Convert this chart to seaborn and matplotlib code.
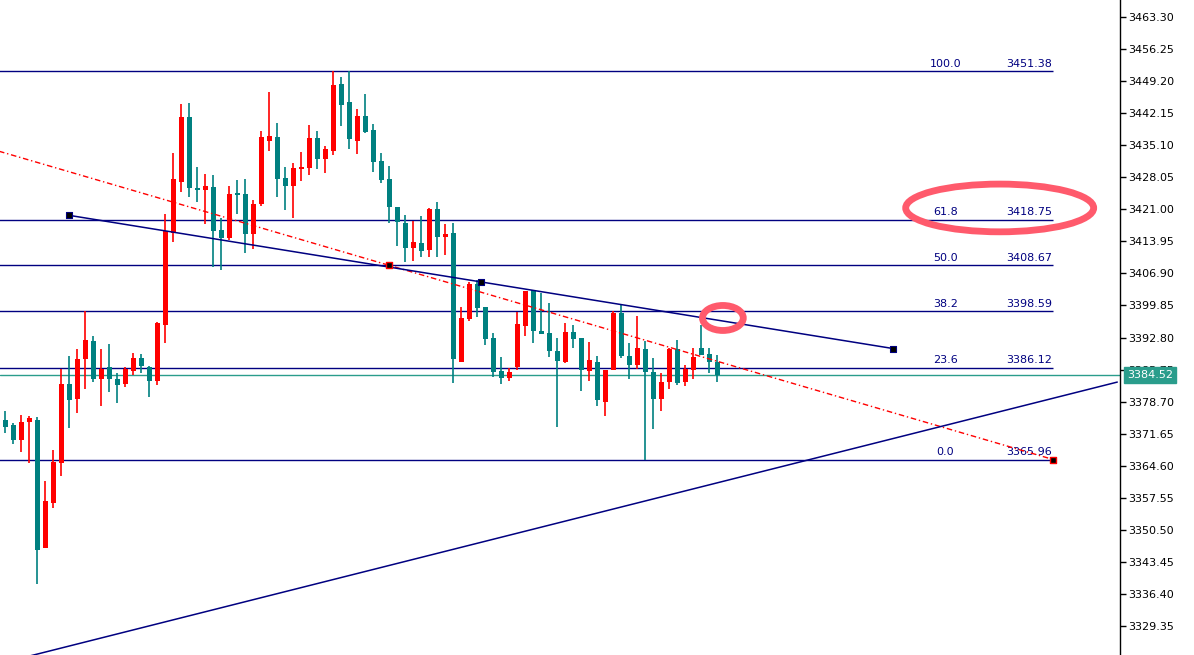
import matplotlib
matplotlib.use("Agg")
import matplotlib.pyplot as plt
from matplotlib.patches import Ellipse
import seaborn as sns
import pandas as pd

# ---- candle data (bar index order, oldest first) ----
opens = [3374.6, 3373.5, 3370.2, 3374.2, 3374.6, 3346.5, 3356.4, 3365.2, 3382.6, 3379.3,
         3388.0, 3392.0, 3383.7, 3386.3, 3383.7, 3382.6, 3385.4, 3388.3, 3386.3, 3383.2,
         3395.5, 3415.8, 3427.0, 3441.3, 3425.7, 3425.2, 3425.9, 3416.4, 3414.7, 3424.6,
         3424.4, 3415.6, 3422.2, 3436.0, 3436.9, 3427.9, 3426.1, 3429.9, 3430.1, 3436.7,
         3432.0, 3433.8, 3448.5, 3444.6, 3436.0, 3441.5, 3438.4, 3431.6, 3427.7, 3421.5,
         3418.0, 3412.5, 3413.6, 3412.0, 3421.0, 3414.9, 3415.8, 3387.4, 3396.9, 3404.5,
         3399.5, 3392.7, 3385.4, 3383.9, 3386.3, 3395.3, 3403.2, 3394.2, 3393.8, 3389.8,
         3387.4, 3394.0, 3392.7, 3385.4, 3387.4, 3378.6, 3385.6, 3398.2, 3388.7, 3386.7,
         3390.2, 3385.2, 3379.3, 3383.0, 3390.2, 3383.0, 3385.6, 3390.5, 3389.2, 3387.4]
highs = [3376.6, 3374.0, 3375.7, 3375.5, 3375.3, 3361.2, 3368.0, 3385.9, 3388.7, 3390.2,
         3398.6, 3393.1, 3390.2, 3391.3, 3385.0, 3386.3, 3389.4, 3389.2, 3386.5, 3396.2,
         3419.9, 3433.4, 3444.2, 3444.4, 3430.3, 3428.8, 3428.5, 3419.1, 3426.1, 3427.4,
         3427.7, 3423.0, 3438.2, 3446.8, 3440.0, 3430.3, 3431.2, 3433.6, 3439.5, 3438.2,
         3434.9, 3451.38, 3450.1, 3451.38, 3443.1, 3446.4, 3439.8, 3433.4, 3430.5, 3421.5,
         3419.7, 3418.4, 3419.5, 3421.3, 3422.6, 3417.8, 3418.0, 3399.5, 3405.0, 3405.4,
         3399.5, 3393.8, 3388.5, 3386.1, 3398.4, 3403.0, 3403.2, 3402.6, 3400.4, 3392.7,
         3396.0, 3395.5, 3392.7, 3391.8, 3388.7, 3385.6, 3398.6, 3400.2, 3391.6, 3397.5,
         3392.0, 3388.3, 3385.0, 3390.5, 3392.2, 3386.7, 3390.5, 3395.5, 3390.5, 3388.9]
lows = [3371.8, 3369.3, 3367.6, 3365.2, 3338.5, 3346.4, 3355.3, 3362.3, 3372.9, 3376.2,
        3381.5, 3383.0, 3377.7, 3380.8, 3378.4, 3381.9, 3384.5, 3385.0, 3379.7, 3382.3,
        3391.6, 3413.8, 3424.8, 3423.7, 3422.6, 3417.8, 3408.3, 3407.6, 3414.2, 3419.9,
        3411.4, 3412.3, 3421.7, 3433.8, 3423.7, 3420.8, 3419.1, 3427.2, 3428.5, 3429.9,
        3429.0, 3433.0, 3439.3, 3434.2, 3433.2, 3437.8, 3429.2, 3426.8, 3418.0, 3412.9,
        3409.4, 3409.6, 3410.5, 3410.5, 3410.5, 3410.9, 3382.8, 3387.4, 3396.5, 3397.3,
        3391.1, 3384.1, 3382.5, 3383.2, 3385.6, 3393.1, 3391.6, 3393.6, 3388.5, 3373.1,
        3387.2, 3390.5, 3381.0, 3383.2, 3377.7, 3375.5, 3385.6, 3388.3, 3383.6, 3385.9,
        3365.96, 3372.7, 3376.6, 3381.5, 3382.3, 3382.1, 3383.6, 3388.9, 3385.0, 3383.0]
closes = [3373.1, 3370.2, 3374.2, 3375.1, 3346.0, 3356.8, 3365.4, 3382.6, 3379.0, 3388.0,
          3392.2, 3383.7, 3385.9, 3383.7, 3382.3, 3385.9, 3388.3, 3386.5, 3383.2, 3396.0,
          3416.2, 3427.7, 3441.3, 3425.7, 3425.2, 3426.1, 3416.2, 3414.7, 3424.4, 3424.1,
          3415.6, 3422.2, 3436.9, 3437.1, 3427.7, 3426.1, 3430.1, 3430.3, 3436.7, 3432.0,
          3434.2, 3448.3, 3443.9, 3436.5, 3441.5, 3438.0, 3431.4, 3427.4, 3421.5, 3418.2,
          3412.5, 3413.8, 3411.8, 3421.0, 3414.9, 3415.6, 3388.0, 3397.1, 3404.5, 3399.3,
          3392.5, 3385.2, 3383.9, 3385.2, 3395.7, 3403.0, 3394.2, 3393.6, 3389.8, 3387.6,
          3394.0, 3392.5, 3385.6, 3387.8, 3379.0, 3385.6, 3398.2, 3388.7, 3386.7, 3390.5,
          3385.2, 3379.3, 3383.0, 3390.2, 3382.8, 3385.9, 3388.5, 3388.9, 3387.4, 3384.52]

# ---- Fibonacci retracement ----
fib_labels = ["0.0", "23.6", "38.2", "50.0", "61.8", "100.0"]
fib_prices = [3365.96, 3386.12, 3398.59, 3408.67, 3418.75, 3451.38]
fib_anchor_x = [-35, 131]
fib_anchor_y = [3451.38, 3365.96]

# ---- trend lines ----
falling_x = [8, 111]
falling_y = [3419.67, 3390.37]
rising_x = [0, 139]
rising_y = [3321.4, 3383.0]

bid_price = 3384.52

# ---- price scale ----
ytick_values = [3329.35, 3336.40, 3343.45, 3350.50, 3357.55, 3364.60, 3371.65, 3378.70,
                3385.75, 3392.80, 3399.85, 3406.90, 3413.95, 3421.00, 3428.05, 3435.10,
                3442.15, 3449.20, 3456.25, 3463.30]

UP = "#ff0000"
DOWN = "#008080"
NAVY = "#000080"
TEAL = "#2a9d8c"
MARK = "#ff5a6c"

sns.set_theme(style="white")
plt.rcParams["font.family"] = ["DejaVu Sans"]

df = pd.DataFrame({"open": opens, "high": highs, "low": lows, "close": closes})
df["idx"] = range(len(df))
df["up"] = df["close"] >= df["open"]
df["color"] = df["up"].map({True: UP, False: DOWN})

fig = plt.figure(figsize=(11.94, 6.55), dpi=100)
ax = fig.add_axes([0, 0, 1120 / 1194, 1])

# fib levels
for lab, p in zip(fib_labels, fib_prices):
    ax.hlines(p, fib_anchor_x[0], fib_anchor_x[1], color=NAVY, lw=1, zorder=2)
    ax.text(117.5, p + 0.55, lab, color=NAVY, fontsize=8, ha="center", va="bottom")
    ax.text(128.0, p + 0.55, f"{p:.2f}", color=NAVY, fontsize=8, ha="center", va="bottom")

# bid line
ax.axhline(bid_price, color=TEAL, lw=1, zorder=2)

# wicks and bodies
ax.vlines(df["idx"], df["low"], df["high"], colors=df["color"], lw=1.2, zorder=3)
body_lo = df[["open", "close"]].min(axis=1)
body_h = (df["close"] - df["open"]).abs().clip(lower=0.3)
ax.bar(df["idx"], body_h, bottom=body_lo, width=0.64, color=df["color"],
       linewidth=0, zorder=4)

# fib diagonal (dash-dot)
ax.plot(fib_anchor_x, fib_anchor_y, color=UP, lw=1, ls=(0, (4, 2, 1, 2)), zorder=5)
fib_mid = [(fib_anchor_x[0] + fib_anchor_x[1]) / 2, (fib_anchor_y[0] + fib_anchor_y[1]) / 2]
sns.scatterplot(x=[fib_mid[0], fib_anchor_x[1]], y=[fib_mid[1], fib_anchor_y[1]], ax=ax,
                marker="s", s=22, color="black", edgecolor=UP, linewidth=1, zorder=6,
                legend=False)

# trend lines
ax.plot(falling_x, falling_y, color=NAVY, lw=1.1, zorder=5)
fall_mid = [(falling_x[0] + falling_x[1]) / 2, (falling_y[0] + falling_y[1]) / 2]
sns.scatterplot(x=[falling_x[0], fall_mid[0], falling_x[1]],
                y=[falling_y[0], fall_mid[1], falling_y[1]], ax=ax,
                marker="s", s=20, color="black", edgecolor=NAVY, linewidth=0.8,
                zorder=6, legend=False)
ax.plot(rising_x, rising_y, color=NAVY, lw=1.1, zorder=5)

# highlight rings
ax.add_patch(Ellipse((124.3, 3421.3), 23.5, 10.5, fill=False, ec=MARK, lw=4.9, zorder=7))
ax.add_patch(Ellipse((89.7, 3397.1), 5.1, 5.5, fill=False, ec=MARK, lw=4.9, zorder=7))

# axes styling
ax.set_xlim(-0.66, 139.34)
ax.set_ylim(3322.97, 3467.04)
ax.set_xticks([])
ax.yaxis.tick_right()
ax.set_yticks(ytick_values)
ax.set_yticklabels([f"{v:.2f}" for v in ytick_values])
ax.tick_params(axis="y", direction="out", length=4, width=1, pad=2, labelsize=8,
               colors="black", right=True)
for side in ["left", "top", "bottom"]:
    ax.spines[side].set_visible(False)
ax.spines["right"].set_color("black")
ax.spines["right"].set_linewidth(1)
ax.grid(False)

# current price tag (sits on top of the neighbouring scale label)
ax.text(1.0065, bid_price, f"{bid_price:.2f}", transform=ax.get_yaxis_transform(),
        ha="left", va="center", fontsize=8, color="white", zorder=10, clip_on=False,
        bbox=dict(boxstyle="square,pad=0.28", fc=TEAL, ec=TEAL))

fig.savefig("out.png", dpi=100, facecolor="white")
